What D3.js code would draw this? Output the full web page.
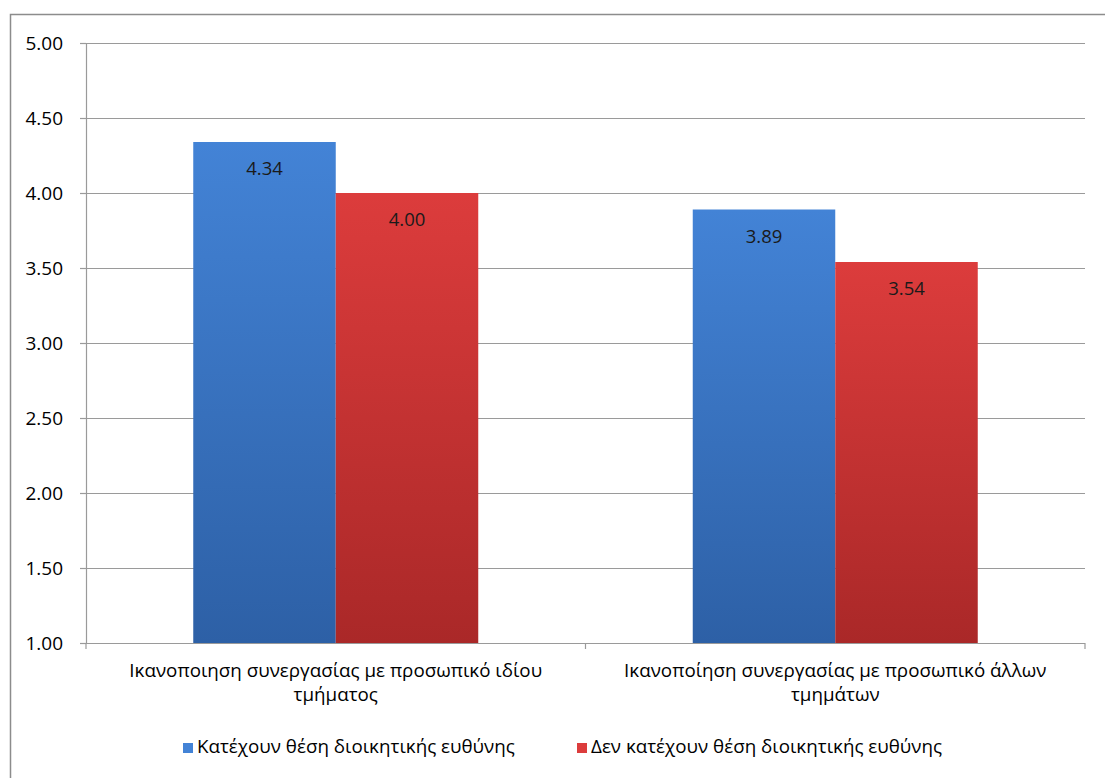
<!DOCTYPE html>
<html>
<head>
<meta charset="utf-8">
<script src="https://cdn.jsdelivr.net/npm/d3@7"></script>
<style>
  body { margin: 0; background: #fff; }
  svg { display: block; font-family: "Open Sans", "Noto Sans", sans-serif; }
</style>
</head>
<body>
<svg id="chart"></svg>
<script>
let categories = [
  ["Ικανοποιηση συνεργασίας με προσωπικό ιδίου", "τμήματος"],
  ["Ικανοποίηση συνεργασίας με προσωπικό άλλων", "τμημάτων"]
];
let seriesNames = ["Κατέχουν θέση διοικητικής ευθύνης", "Δεν κατέχουν θέση διοικητικής ευθύνης"];
let managers = [4.34, 3.89];
let nonManagers = [4.00, 3.54];
let yTicks = [1.0, 1.5, 2.0, 2.5, 3.0, 3.5, 4.0, 4.5, 5.0];

const width = 1105;
const height = 778;
const font = "'Open Sans', 'Noto Sans', sans-serif";

let svg = d3.select("svg#chart")
  .attr("width", width)
  .attr("height", height);

let margin = { top: 43, right: 20, bottom: 135, left: 86 };
let plotWidth = width - margin.left - margin.right;
let plotHeight = height - margin.top - margin.bottom;

// frame around the chart area
svg.append("path")
  .attr("d", "M10.5," + height + "V14.5H" + width)
  .attr("fill", "none")
  .attr("stroke", "#8c8c8c")
  .attr("stroke-width", 1.5);

let defs = svg.append("defs");
let colors = [["#4383d6", "#2d60a6"], ["#dc3c3c", "#aa2828"]];
colors.forEach(function(c, i) {
  let g = defs.append("linearGradient")
    .attr("id", "grad" + i)
    .attr("x1", 0).attr("y1", 0).attr("x2", 0).attr("y2", 1);
  g.append("stop").attr("offset", "0%").attr("stop-color", c[0]);
  g.append("stop").attr("offset", "100%").attr("stop-color", c[1]);
});

let yScale = d3.scaleLinear()
  .domain([1, 5])
  .range([plotHeight, 0]);

let xScale = d3.scaleBand()
  .domain(d3.range(categories.length))
  .range([0, plotWidth]);

let innerScale = d3.scaleBand()
  .domain([0, 1])
  .range([0, 285]);

let plot = svg.append("g")
  .attr("transform", "translate(" + margin.left + "," + margin.top + ")");

// gridlines
plot.append("g")
  .selectAll("line")
  .data(yTicks.slice(1))
  .enter().append("line")
  .attr("x1", 0)
  .attr("x2", plotWidth)
  .attr("y1", d => Math.round(yScale(d)) + 0.5)
  .attr("y2", d => Math.round(yScale(d)) + 0.5)
  .attr("stroke", "#9a9a9a")
  .attr("stroke-width", 1.2);

// y axis
let yAxis = d3.axisLeft(yScale)
  .tickValues(yTicks)
  .tickFormat(d3.format(".2f"))
  .tickSize(6)
  .tickPadding(17);
let yGroup = plot.append("g").call(yAxis);
yGroup.select(".domain").attr("stroke", "#9a9a9a").attr("stroke-width", 1.2);
yGroup.selectAll(".tick line").attr("stroke", "#9a9a9a").attr("stroke-width", 1.2);
yGroup.selectAll(".tick text")
  .attr("fill", "#000")
  .style("font-family", font)
  .style("font-size", "19px");

// bars
let pairs = [];
categories.forEach(function(c, i) {
  pairs.push({ cat: i, s: 0, v: managers[i] });
  pairs.push({ cat: i, s: 1, v: nonManagers[i] });
});

let barOffset = (xScale.bandwidth() - innerScale.range()[1]) / 2;

plot.append("g")
  .selectAll("rect")
  .data(pairs)
  .enter().append("rect")
  .attr("x", d => xScale(d.cat) + barOffset + innerScale(d.s))
  .attr("y", d => yScale(d.v))
  .attr("width", innerScale.bandwidth())
  .attr("height", d => plotHeight - yScale(d.v))
  .attr("fill", d => "url(#grad" + d.s + ")");

plot.append("g")
  .selectAll("text")
  .data(pairs)
  .enter().append("text")
  .attr("x", d => xScale(d.cat) + barOffset + innerScale(d.s) + innerScale.bandwidth() / 2)
  .attr("y", d => yScale(d.v) + 33)
  .attr("text-anchor", "middle")
  .style("font-size", "18.5px")
  .attr("fill", "#1a1a1a")
  .text(d => d.v.toFixed(2));

// x axis
let xGroup = plot.append("g")
  .attr("transform", "translate(0," + plotHeight + ")");
xGroup.append("line")
  .attr("x1", 0).attr("x2", plotWidth)
  .attr("y1", 0.5).attr("y2", 0.5)
  .attr("stroke", "#9a9a9a").attr("stroke-width", 1.2);
xGroup.selectAll("line.tick")
  .data(d3.range(categories.length + 1))
  .enter().append("line")
  .attr("class", "tick")
  .attr("x1", d => d * xScale.bandwidth())
  .attr("x2", d => d * xScale.bandwidth())
  .attr("y1", 0).attr("y2", 6)
  .attr("stroke", "#9a9a9a").attr("stroke-width", 1.2);

let catLabels = xGroup.selectAll("text.cat")
  .data(categories)
  .enter().append("text")
  .attr("class", "cat")
  .attr("text-anchor", "middle")
  .style("font-size", "18.8px")
  .attr("fill", "#000");
catLabels.each(function(lines, i) {
  let t = d3.select(this);
  lines.forEach(function(line, j) {
    t.append("tspan")
      .attr("x", xScale(i) + xScale.bandwidth() / 2)
      .attr("y", 34 + j * 24)
      .text(line);
  });
});

// legend
let legendX = [183, 577];
let legend = svg.append("g");
seriesNames.forEach(function(name, i) {
  legend.append("rect")
    .attr("x", legendX[i])
    .attr("y", 743)
    .attr("width", 10)
    .attr("height", 10)
    .attr("fill", colors[i][0]);
  legend.append("text")
    .attr("x", legendX[i] + 14)
    .attr("y", 753)
    .style("font-size", "18.8px")
    .attr("fill", "#000")
    .text(name);
});
</script>
</body>
</html>
